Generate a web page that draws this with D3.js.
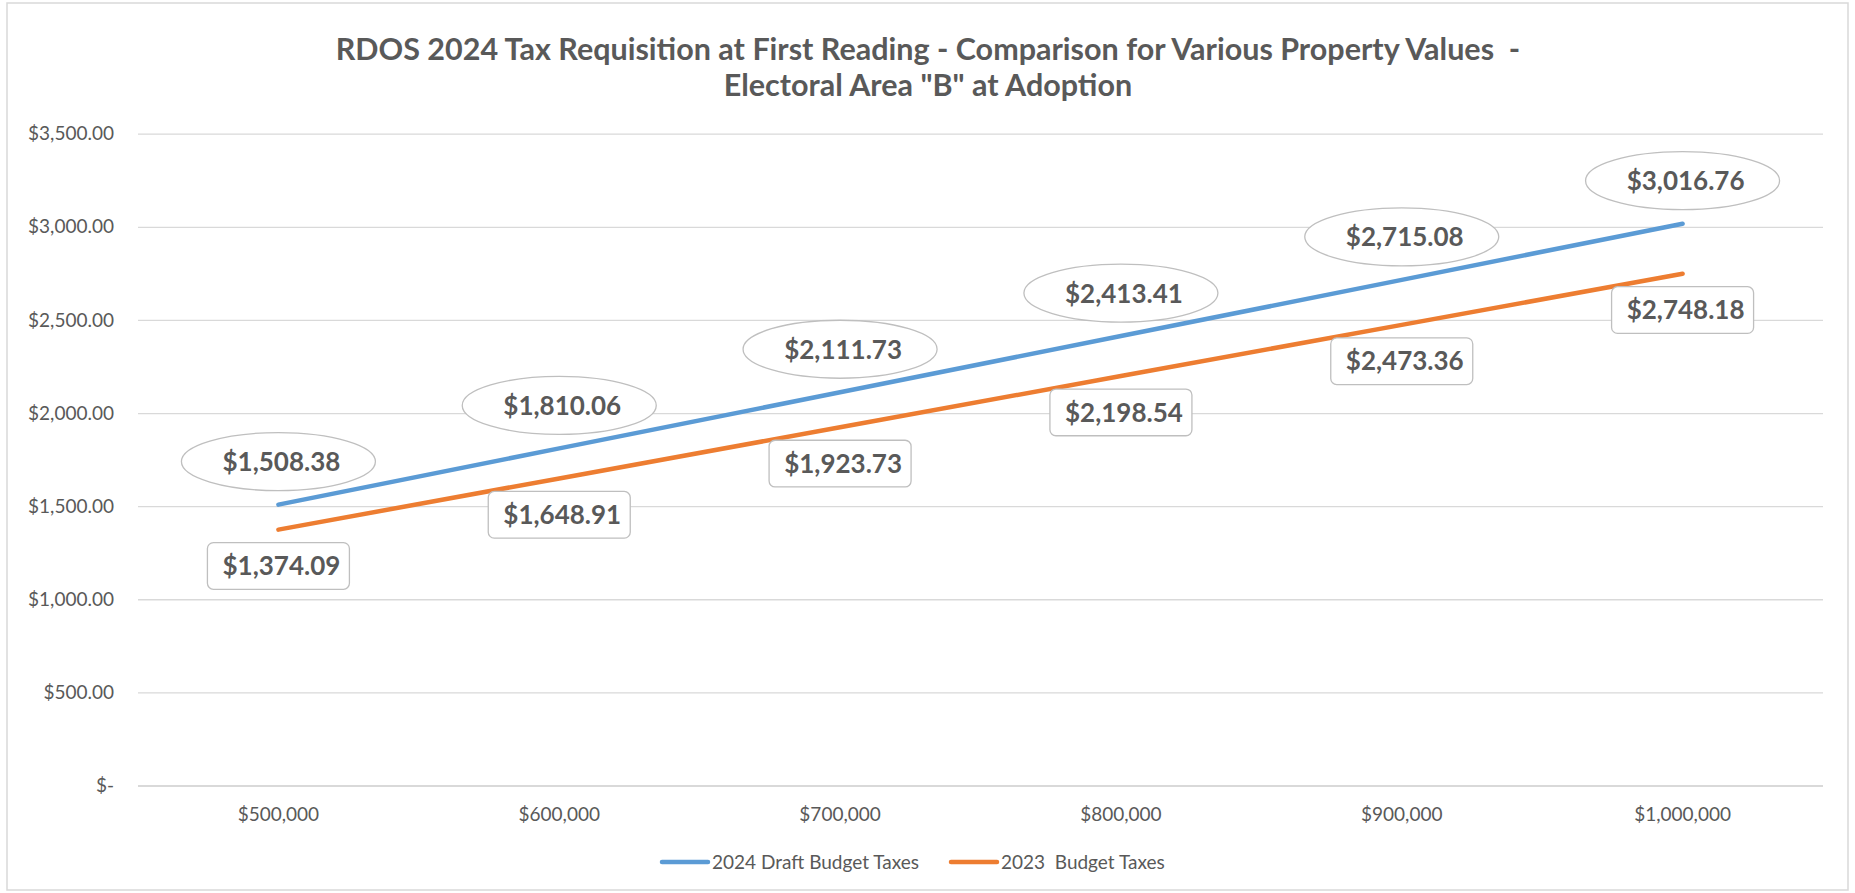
<!DOCTYPE html>
<html>
<head>
<meta charset="utf-8">
<script src="https://cdn.jsdelivr.net/npm/d3@7"></script>
<style>
  html, body { margin: 0; padding: 0; background: #fff; }
  svg { display: block; }
</style>
</head>
<body>
<svg id="chart" width="1855" height="893"></svg>
<script>
// ---------------- DATA ----------------
const categories = ["$500,000", "$600,000", "$700,000", "$800,000", "$900,000", "$1,000,000"];
const series2024 = [1508.38, 1810.06, 2111.73, 2413.41, 2715.08, 3016.76];
const series2023 = [1374.09, 1648.91, 1923.73, 2198.54, 2473.36, 2748.18];
const seriesNames = ["2024 Draft Budget Taxes", "2023  Budget Taxes"];
const yTickValues = [0, 500, 1000, 1500, 2000, 2500, 3000, 3500];
const yTickLabels = ["$-", "$500.00", "$1,000.00", "$1,500.00", "$2,000.00", "$2,500.00", "$3,000.00", "$3,500.00"];
const titleLines = ["RDOS 2024 Tax Requisition at First Reading - Comparison for Various Property Values  -", "Electoral Area \"B\" at Adoption"];

// ---------------- STYLE ----------------
const FONT = "Lato, 'Open Sans', sans-serif";
const TEXT = "#595959";
const GRID = "#D9D9D9";
const BLUE = "#5B9BD5";
const ORANGE = "#ED7D31";
const LABEL_STROKE = "#BFBFBF";

const svg = d3.select("#chart");

// chart border
svg.append("rect")
  .attr("x", 7).attr("y", 3).attr("width", 1841).attr("height", 887)
  .attr("fill", "#fff").attr("stroke", GRID).attr("stroke-width", 1.5);

// title
svg.append("g").selectAll("text").data(titleLines).join("text")
  .attr("x", 928)
  .attr("y", (d, i) => 59.5 + i * 36.5)
  .attr("text-anchor", "middle")
  .attr("font-family", FONT).attr("font-weight", 700).attr("font-size", 30.5)
  .attr("fill", TEXT)
  .style("white-space", "pre")
  .text(d => d);

// scales
const x = d3.scaleBand().domain(categories).range([138, 1823]).padding(0);
const cx = d => x(d) + x.bandwidth() / 2;
const y = d3.scaleLinear().domain([0, 3500]).range([785.5, 133.7]);

// gridlines + y labels
const yAxis = svg.append("g").attr("transform", "translate(138,0)")
  .call(d3.axisLeft(y).tickValues(yTickValues).tickSize(-1685).tickPadding(24)
    .tickFormat((d, i) => yTickLabels[i]));
yAxis.select(".domain").remove();
yAxis.selectAll(".tick line").attr("stroke", GRID)
  .attr("stroke-width", d => d === 0 ? 2.2 : 1.3);
yAxis.selectAll(".tick text")
  .attr("font-family", FONT).attr("font-size", 19).attr("fill", TEXT);

// x labels
const xAxis = svg.append("g").attr("transform", "translate(0,785.5)")
  .call(d3.axisBottom(x).tickSize(0).tickPadding(22));
xAxis.select(".domain").remove();
xAxis.selectAll(".tick text")
  .attr("font-family", FONT).attr("font-size", 19).attr("fill", TEXT);

// lines
const line = d3.line().x((d, i) => cx(categories[i])).y(d => y(d));
[[series2024, BLUE], [series2023, ORANGE]].forEach(([vals, col]) => {
  svg.append("path").datum(vals)
    .attr("d", line)
    .attr("fill", "none").attr("stroke", col).attr("stroke-width", 4.5)
    .attr("stroke-linecap", "round").attr("stroke-linejoin", "round");
});

const fmt = d3.format("$,.2f");

// blue labels: ellipse callouts above
const gBlue = svg.append("g").selectAll("g").data(series2024).join("g")
  .attr("transform", (d, i) => `translate(${cx(categories[i])},${y(d) - 43})`);
gBlue.append("ellipse").attr("rx", 97).attr("ry", 29)
  .attr("fill", "#fff").attr("stroke", LABEL_STROKE).attr("stroke-width", 1.3);
gBlue.append("text").attr("x", 3).attr("y", 9.5).attr("text-anchor", "middle")
  .attr("font-family", FONT).attr("font-weight", 700).attr("font-size", 26)
  .attr("fill", TEXT).text(d => fmt(d));

// orange labels: rounded boxes below
const gOr = svg.append("g").selectAll("g").data(series2023).join("g")
  .attr("transform", (d, i) => `translate(${cx(categories[i])},${y(d) + 13})`);
gOr.append("rect").attr("x", -71).attr("y", 0).attr("width", 142).attr("height", 46.7)
  .attr("rx", 6).attr("fill", "#fff").attr("stroke", LABEL_STROKE).attr("stroke-width", 1.3);
gOr.append("text").attr("x", 3).attr("y", 32.5).attr("text-anchor", "middle")
  .attr("font-family", FONT).attr("font-weight", 700).attr("font-size", 26)
  .attr("fill", TEXT).text(d => fmt(d));

// legend
const legendItems = [
  { name: seriesNames[0], color: BLUE, x: 662 },
  { name: seriesNames[1], color: ORANGE, x: 951 }
];
const lg = svg.append("g").selectAll("g").data(legendItems).join("g")
  .attr("transform", d => `translate(${d.x},862)`);
lg.append("line").attr("x1", 0).attr("x2", 46).attr("y1", 0).attr("y2", 0)
  .attr("stroke", d => d.color).attr("stroke-width", 4.5).attr("stroke-linecap", "round");
lg.append("text").attr("x", 50).attr("y", 6.5)
  .attr("font-family", FONT).attr("font-size", 19).attr("fill", TEXT)
  .style("white-space", "pre")
  .text(d => d.name);
</script>
</body>
</html>
